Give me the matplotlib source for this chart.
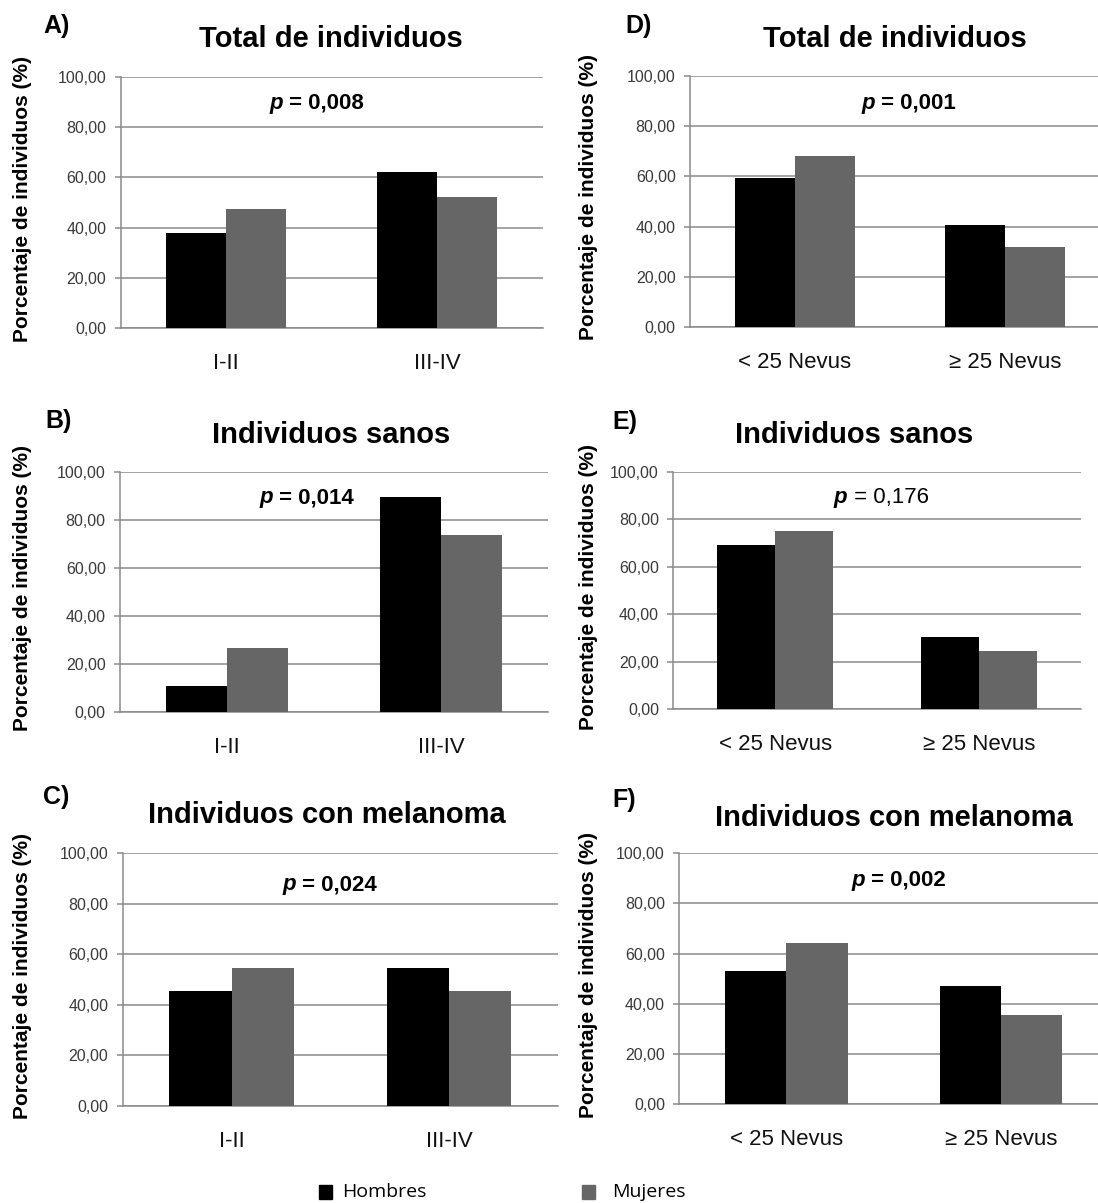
import numpy as np
import matplotlib.pyplot as plt
from matplotlib.patches import Rectangle
from matplotlib.transforms import offset_copy

plt.rcParams['font.family'] = ['Liberation Sans', 'DejaVu Sans']

# data
fototipo = ['I-II', 'III-IV']
nevus = ['< 25 Nevus', '\u2265 25 Nevus']

hombres_A = [37.8, 62.2]
mujeres_A = [47.4, 52.3]
hombres_B = [10.7, 89.3]
mujeres_B = [26.5, 73.5]
hombres_C = [45.5, 54.5]
mujeres_C = [54.5, 45.7]
hombres_D = [59.2, 40.8]
mujeres_D = [68.1, 31.9]
hombres_E = [69.0, 30.4]
mujeres_E = [75.0, 24.6]
hombres_F = [52.9, 47.2]
mujeres_F = [64.3, 35.7]

titles = ['Total de individuos', 'Individuos sanos', 'Individuos con melanoma']
pvals_left = ['0,008', '0,014', '0,024']
pvals_right = ['0,001', '0,176', '0,002']
bold_p_right = [True, False, True]

W, H = 1098, 1203
fig = plt.figure(figsize=(W / 100, H / 100), dpi=100)
renderer = fig.canvas.get_renderer()

black = '#000000'
gray = '#666666'
gridc = '#8a8a8a'
textc = '#3a3a3a'


def panel(rect, cats, hom, muj, title, title_xy, letter, letter_xy, pval, p_xy,
          ylab_x, pbold=True):
    x0, y0, x1, y1 = rect
    ax = fig.add_axes([x0 / W, 1 - y1 / H, (x1 - x0) / W, (y1 - y0) / H])
    x = np.arange(len(cats))
    bw = 0.285
    ax.bar(x - bw / 2, hom, bw, color=black, zorder=3)
    ax.bar(x + bw / 2, muj, bw, color=gray, zorder=3)
    ax.set_xlim(-0.5, 1.5)
    ax.set_ylim(0, 100)
    ticks = np.arange(0, 101, 20)
    ax.set_yticks(ticks)
    ax.set_yticklabels([f'{v:.2f}'.replace('.', ',') for v in ticks],
                       fontsize=11.5, color=textc)
    ax.set_xticks(x)
    ax.set_xticklabels(cats, fontsize=16, color='#111111')
    ax.tick_params(axis='y', length=4.3, width=1.1, color=gridc, pad=6)
    ax.tick_params(axis='x', length=0, pad=18)
    ax.yaxis.grid(True, color=gridc, linewidth=1.1, zorder=0)
    for s in ['top', 'right']:
        ax.spines[s].set_visible(False)
    for s in ['left', 'bottom']:
        ax.spines[s].set_color(gridc)
        ax.spines[s].set_linewidth(1.1)

    # y label, title and panel letter placed in pixels
    fig.text(ylab_x / W, 1 - ((y0 + y1) / 2 - 4) / H, 'Porcentaje de individuos (%)',
             rotation=90, fontsize=15, fontweight='bold', ha='center', va='center')
    fig.text(title_xy[0] / W, 1 - title_xy[1] / H, title, fontsize=21,
             fontweight='bold', ha='center', va='baseline')
    fig.text(letter_xy[0] / W, 1 - letter_xy[1] / H, letter, fontsize=18,
             fontweight='bold', ha='left', va='center')

    # p value: bold italic "p" followed by the rest, centred together
    wt = 'bold' if pbold else 'normal'
    t1 = ax.text(p_xy[0], p_xy[1], 'p', ha='left', va='center', fontsize=16,
                 fontweight='bold', fontstyle='italic')
    t2 = ax.text(p_xy[0], p_xy[1], ' = ' + pval, ha='left', va='center',
                 fontsize=16, fontweight=wt)
    w1 = t1.get_window_extent(renderer).width
    w2 = t2.get_window_extent(renderer).width
    start = -(w1 + w2) / 2
    t1.set_transform(offset_copy(ax.transData, fig=fig, x=start, y=0, units='dots'))
    t2.set_transform(offset_copy(ax.transData, fig=fig, x=start + w1, y=0, units='dots'))
    return ax


left_data = [(hombres_A, mujeres_A), (hombres_B, mujeres_B), (hombres_C, mujeres_C)]
right_data = [(hombres_D, mujeres_D), (hombres_E, mujeres_E), (hombres_F, mujeres_F)]

left_rects = [(120.7, 76.7, 542.7, 328.3), (120, 471.7, 548, 711.7),
              (122.7, 853.3, 558, 1106)]
right_rects = [(690, 75.7, 1110, 327.3), (673.3, 471.7, 1081, 709.3),
               (679.3, 853.3, 1108, 1104)]
left_title_xy = [(331, 47), (331, 443), (327, 823)]
right_title_xy = [(895, 47), (854, 443), (894, 826)]
left_letter_xy = [(43, 26), (45, 421), (43, 797)]
right_letter_xy = [(625, 26), (612, 422), (612, 800)]
left_p_xy = [(0.43, 89.5), (0.37, 89.2), (0.452, 87.5)]
right_p_xy = [(0.54, 89.0), (0.52, 89.1), (0.525, 89.3)]

for i in range(3):
    panel(left_rects[i], fototipo, left_data[i][0], left_data[i][1], titles[i],
          left_title_xy[i], 'ABC'[i] + ')', left_letter_xy[i], pvals_left[i],
          left_p_xy[i], 23)
    panel(right_rects[i], nevus, right_data[i][0], right_data[i][1], titles[i],
          right_title_xy[i], 'DEF'[i] + ')', right_letter_xy[i], pvals_right[i],
          right_p_xy[i], 589, bold_p_right[i])

# legend at the bottom
fig.patches.append(Rectangle((319 / W, 1 - 1199 / H), 13 / W, 14 / H, color=black,
                             transform=fig.transFigure, figure=fig))
fig.text(342 / W, 1 - 1192 / H, 'Hombres', fontsize=14, va='center', ha='left',
         family='Open Sans')
fig.patches.append(Rectangle((582 / W, 1 - 1199 / H), 13 / W, 14 / H, color=gray,
                             transform=fig.transFigure, figure=fig))
fig.text(612 / W, 1 - 1192 / H, 'Mujeres', fontsize=14, va='center', ha='left',
         family='Open Sans')

fig.savefig('out.png', dpi=100)
